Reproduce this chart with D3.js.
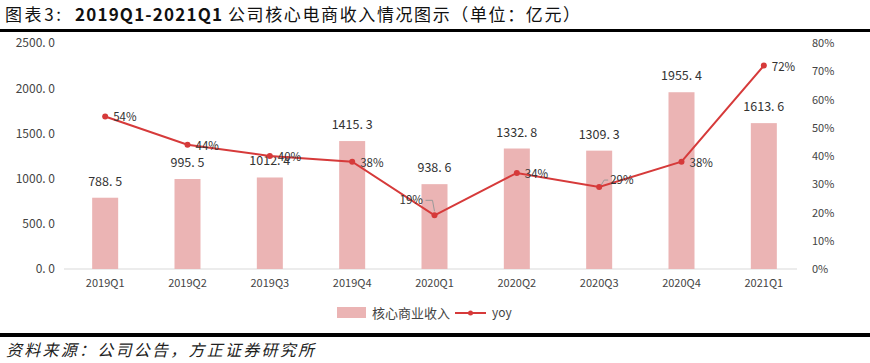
<!DOCTYPE html>
<html>
<head>
<meta charset="utf-8">
<script src="https://cdn.jsdelivr.net/npm/d3@7"></script>
<style>
  body { margin: 0; background: #fff; }
  svg text { font-family: "Noto Sans CJK SC", "Liberation Sans", sans-serif; }
</style>
</head>
<body>
<svg id="chart" width="870" height="363"></svg>
<script>
let quarters = ['2019Q1', '2019Q2', '2019Q3', '2019Q4', '2020Q1', '2020Q2', '2020Q3', '2020Q4', '2021Q1']
let revenue = [788.5, 995.5, 1012.4, 1415.3, 938.6, 1332.8, 1309.3, 1955.4, 1613.6]
let yoy = [54, 44, 40, 38, 19, 34, 29, 38, 72]
let leftTicks = [0, 500, 1000, 1500, 2000, 2500]
let rightTicks = [0, 10, 20, 30, 40, 50, 60, 70, 80]

let margin = { top: 43, left: 64, right: 66, bottom: 94 }
let width = 870 - margin.left - margin.right
let height = 363 - margin.top - margin.bottom

let svg = d3.select('#chart')

// title + rules
let title = svg.append('text')
  .attr('y', 21)
  .attr('font-size', 17)
  .attr('fill', '#111')
title.append('tspan').attr('x', 5).attr('textLength', 56).text('图表3:')
title.append('tspan').attr('x', 75).attr('textLength', 147).attr('font-weight', 'bold').text('2019Q1-2021Q1')
title.append('tspan').attr('x', 228).attr('textLength', 352).text('公司核心电商收入情况图示（单位：亿元）')

svg.append('rect').attr('x', 0).attr('y', 29).attr('width', 870).attr('height', 3).attr('fill', '#000')
svg.append('rect').attr('x', 0).attr('y', 333).attr('width', 870).attr('height', 4).attr('fill', '#000')

svg.append('text')
  .attr('x', 6).attr('y', 356)
  .attr('font-size', 16)
  .attr('font-style', 'italic')
  .attr('fill', '#222')
  .attr('textLength', 308)
  .text('资料来源：公司公告，方正证券研究所')

let g = svg.append('g').attr('transform', `translate(${margin.left},${margin.top})`)

let x = d3.scaleBand().domain(quarters).range([0, 741])
let yLeft = d3.scaleLinear().domain([0, 2500]).range([height, 0])
let yRight = d3.scaleLinear().domain([0, 80]).range([height, 0])

// axes
let leftAxis = g.append('g')
  .call(d3.axisLeft(yLeft).tickValues(leftTicks).tickSize(0).tickPadding(9).tickFormat(d => d3.format('.1f')(d).replace('.', '. ')))
leftAxis.select('.domain').remove()
leftAxis.selectAll('text').attr('font-size', 12).attr('fill', '#444')

let rightAxis = g.append('g')
  .attr('transform', `translate(${width + 8},0)`)
  .call(d3.axisRight(yRight).tickValues(rightTicks).tickSize(0).tickPadding(0).tickFormat(d => d + '%'))
rightAxis.select('.domain').remove()
rightAxis.selectAll('text').attr('font-size', 11).attr('fill', '#444')

g.append('line')
  .attr('x1', 0).attr('x2', 733)
  .attr('y1', height).attr('y2', height)
  .attr('stroke', '#d9d9d9').attr('stroke-width', 1)

let bottomAxis = g.append('g')
  .attr('transform', `translate(0,${height})`)
  .call(d3.axisBottom(x).tickSize(0).tickPadding(10))
bottomAxis.select('.domain').remove()
bottomAxis.selectAll('text').attr('font-size', 11).attr('fill', '#444')

// bars
let barW = 26
g.selectAll('.bar')
  .data(quarters)
  .enter()
  .append('rect')
  .attr('class', 'bar')
  .attr('x', (d, i) => x(d) + x.bandwidth() / 2 - barW / 2)
  .attr('y', (d, i) => yLeft(revenue[i]))
  .attr('width', barW)
  .attr('height', (d, i) => height - yLeft(revenue[i]))
  .attr('fill', '#ebb4b4')

g.selectAll('.bar-label')
  .data(quarters)
  .enter()
  .append('text')
  .attr('x', d => x(d) + x.bandwidth() / 2)
  .attr('y', (d, i) => yLeft(revenue[i]) - 12)
  .attr('text-anchor', 'middle')
  .attr('font-size', 12.5)
  .attr('fill', '#333')
  .text((d, i) => d3.format('.1f')(revenue[i]).replace('.', '. '))

// yoy line
let cx = d => x(d) + x.bandwidth() / 2
let line = d3.line()
  .x(d => cx(d))
  .y((d, i) => yRight(yoy[i]))

g.append('path')
  .datum(quarters)
  .attr('d', line)
  .attr('fill', 'none')
  .attr('stroke', '#d63a3a')
  .attr('stroke-width', 2)

g.selectAll('.pt')
  .data(quarters)
  .enter()
  .append('circle')
  .attr('cx', d => cx(d))
  .attr('cy', (d, i) => yRight(yoy[i]))
  .attr('r', 3)
  .attr('fill', '#d63a3a')

// leader lines for 19% and 29%
;[4, 6].forEach(i => {
  let px = cx(quarters[i]), py = yRight(yoy[i])
  g.append('path')
    .attr('d', i == 4
      ? `M${px},${py - 4}L${px - 2},${py - 15}L${px - 9},${py - 15}`
      : `M${px + 2},${py - 2}L${px + 5},${py - 7}L${px + 9},${py - 7}`)
    .attr('fill', 'none')
    .attr('stroke', '#999')
    .attr('stroke-width', 1)
})

g.selectAll('.yoy-label')
  .data(quarters)
  .enter()
  .append('text')
  .attr('x', (d, i) => i == 4 ? cx(d) - 35 : cx(d) + (i == 6 ? 11 : 8))
  .attr('y', (d, i) => yRight(yoy[i]) + (i == 4 ? -11 : i == 6 ? -3 : 5))
  .attr('font-size', 11.5)
  .attr('fill', '#333')
  .text((d, i) => yoy[i] + '%')

// legend
let lg = svg.append('g').attr('transform', 'translate(337,313)')
lg.append('rect').attr('x', 0).attr('y', -6).attr('width', 29).attr('height', 11).attr('fill', '#ebb4b4')
lg.append('text').attr('x', 35).attr('y', 4.5).attr('font-size', 13).attr('fill', '#444').text('核心商业收入')
lg.append('line').attr('x1', 118).attr('x2', 149).attr('y1', 0).attr('y2', 0).attr('stroke', '#d63a3a').attr('stroke-width', 2)
lg.append('circle').attr('cx', 133.5).attr('cy', 0).attr('r', 2.5).attr('fill', '#d63a3a')
lg.append('text').attr('x', 155).attr('y', 4).attr('font-size', 12).attr('fill', '#444').text('yoy')
</script>
</body>
</html>
